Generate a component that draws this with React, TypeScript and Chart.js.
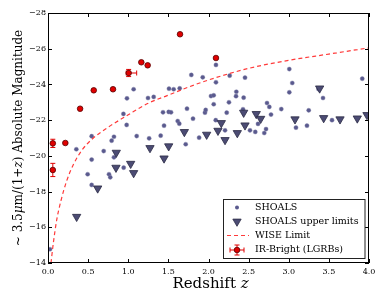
import React, { useEffect, useRef } from "react";
import { Chart, registerables } from "chart.js";
Chart.register(...registerables);

// SHOALS detections: [redshift, magnitude]
const shoals: [number, number][] = [
  [0.025, -14.77], [0.353, -20.37], [0.494, -18.97], [0.544, -21.1], [0.544, -19.79], [0.544, -18.37],
  [0.694, -20.27], [0.76, -18.97], [0.776, -18.8], [0.793, -20.85], [0.822, -21.07], [0.822, -19.92],
  [0.94, -22.35], [0.943, -19.34], [0.98, -21.73], [0.984, -23.22], [1.067, -23.73], [1.105, -21.11],
  [1.246, -23.24], [1.26, -20.98], [1.317, -23.3], [1.404, -21.13], [1.433, -22.44], [1.446, -21.69],
  [1.504, -22.46], [1.508, -23.76], [1.533, -22.44], [1.566, -23.73], [1.616, -21.95], [1.636, -21.8],
  [1.641, -23.78], [1.716, -20.65], [1.732, -22.64], [1.786, -24.53], [1.807, -22.08], [1.883, -21.02],
  [1.928, -24.4], [1.956, -22.42], [1.965, -22.57], [2.031, -23.35], [2.065, -23.39], [2.065, -22.89],
  [2.093, -25.09], [2.093, -24.12], [2.09, -22.0], [2.206, -21.43], [2.227, -22.42], [2.255, -23.0],
  [2.264, -24.49], [2.343, -23.34], [2.347, -23.59], [2.43, -22.61], [2.438, -23.26], [2.455, -24.38],
  [2.517, -21.43], [2.583, -21.34], [2.617, -21.79], [2.695, -21.28], [2.717, -21.5], [2.729, -22.96],
  [2.758, -22.74], [2.779, -22.31], [2.907, -22.62], [3.007, -24.86], [3.044, -24.08], [3.007, -23.56],
  [3.09, -21.58], [3.227, -21.69], [3.249, -22.55], [3.37, -23.74], [3.427, -23.24], [3.539, -22.0],
  [3.916, -24.32],
];

// SHOALS upper limits: [redshift, magnitude]
const upperLimits: [number, number][] = [
  [0.357, -16.59], [0.619, -18.18], [0.847, -19.34], [0.851, -20.18], [1.03, -19.56], [1.067, -19.04],
  [1.271, -20.44], [1.446, -19.86], [1.504, -20.54], [1.699, -21.34], [1.977, -21.19], [2.118, -21.41],
  [2.16, -21.84], [2.206, -20.89], [2.359, -21.28], [2.438, -22.42], [2.455, -21.71], [2.595, -22.35],
  [2.65, -22.08], [3.078, -22.05], [3.385, -23.78], [3.435, -22.12], [3.639, -22.05], [3.854, -22.1],
  [3.975, -22.29],
];

// WISE limit curve: [redshift, magnitude]
const wiseLimit: [number, number][] = [
  [0.037, -14.0], [0.066, -15.1], [0.108, -16.4], [0.162, -17.5], [0.233, -18.6], [0.315, -19.5],
  [0.42, -20.3], [0.565, -21.0], [0.75, -21.6], [1.0, -22.3], [1.25, -22.95], [1.5, -23.4],
  [1.75, -23.85], [2.0, -24.25], [2.5, -24.9], [3.0, -25.35], [3.5, -25.7], [4.0, -26.05],
];

// IR-bright LGRBs
const irZ = [0.06, 0.06, 0.216, 0.4, 0.57, 0.81, 1.005, 1.163, 1.242, 1.645, 2.093];
const irM = [-19.21, -20.7, -20.72, -22.64, -23.67, -23.73, -24.64, -25.24, -25.07, -26.81, -25.48];
const irErrM = [0.37, 0.23, 0, 0, 0, 0, 0.2, 0, 0, 0, 0];
const irErrZLow = [0, 0, 0, 0, 0, 0, 0.03, 0, 0, 0, 0];
const irErrZHigh = [0, 0, 0, 0, 0, 0, 0.1, 0, 0, 0, 0];

const xTicks = [0, 0.5, 1, 1.5, 2, 2.5, 3, 3.5, 4];
const yTicks = [-28, -26, -24, -22, -20, -18, -16, -14];

const legendLabels = ["SHOALS", "SHOALS upper limits", "WISE Limit", "IR-Bright (LGRBs)"];

const FONT = '"DejaVu Serif", serif';
const DOT_COLOR = "#5a5a8e";
const TRI_COLOR = "#4c4c74";
const RED = "#e00000";
const LINE_RED = "#ff3a3a";

type Seg = { t: string; i?: boolean };

function drawSegs(ctx: CanvasRenderingContext2D, segs: Seg[], cx: number, cy: number, size: number) {
  let total = 0;
  const widths = segs.map((s) => {
    ctx.font = `${s.i ? "italic " : ""}${size}px ${FONT}`;
    const w = ctx.measureText(s.t).width;
    total += w;
    return w;
  });
  let x = cx - total / 2;
  ctx.textAlign = "left";
  segs.forEach((s, k) => {
    ctx.font = `${s.i ? "italic " : ""}${size}px ${FONT}`;
    ctx.fillText(s.t, x, cy);
    x += widths[k];
  });
}

function drawErr(ctx: CanvasRenderingContext2D, x: number, y: number, x0: number, x1: number, y0: number, y1: number) {
  const cap = 2.5;
  ctx.beginPath();
  if (y0 !== y1) {
    ctx.moveTo(x, y0); ctx.lineTo(x, y1);
    ctx.moveTo(x - cap, y0); ctx.lineTo(x + cap, y0);
    ctx.moveTo(x - cap, y1); ctx.lineTo(x + cap, y1);
  }
  if (x0 !== x1) {
    ctx.moveTo(x0, y); ctx.lineTo(x1, y);
    ctx.moveTo(x0, y - cap); ctx.lineTo(x0, y + cap);
    ctx.moveTo(x1, y - cap); ctx.lineTo(x1, y + cap);
  }
  ctx.stroke();
}

const customPlugin = {
  id: "custom",
  beforeDatasetsDraw(chart: any) {
    const { ctx, scales } = chart;
    const xs = scales.x, ys = scales.y;
    ctx.save();
    ctx.strokeStyle = RED;
    ctx.lineWidth = 1;
    irZ.forEach((z, k) => {
      const px = xs.getPixelForValue(z);
      const py = ys.getPixelForValue(irM[k]);
      drawErr(
        ctx, px, py,
        xs.getPixelForValue(z - irErrZLow[k]), xs.getPixelForValue(z + irErrZHigh[k]),
        ys.getPixelForValue(irM[k] - irErrM[k]), ys.getPixelForValue(irM[k] + irErrM[k])
      );
    });
    ctx.restore();
  },
  afterDraw(chart: any) {
    const { ctx, chartArea: a, scales } = chart;
    const xs = scales.x, ys = scales.y;
    ctx.save();
    // frame
    ctx.strokeStyle = "#000";
    ctx.lineWidth = 1;
    ctx.strokeRect(a.left + 0.5, a.top + 0.5, a.right - a.left - 1, a.bottom - a.top - 1);
    // inward ticks
    ctx.beginPath();
    const tl = 4;
    xTicks.forEach((v) => {
      const p = Math.round(xs.getPixelForValue(v)) + 0.5;
      ctx.moveTo(p, a.bottom); ctx.lineTo(p, a.bottom - tl);
      ctx.moveTo(p, a.top); ctx.lineTo(p, a.top + tl);
    });
    yTicks.forEach((v) => {
      const p = Math.round(ys.getPixelForValue(v)) + 0.5;
      ctx.moveTo(a.left, p); ctx.lineTo(a.left + tl, p);
      ctx.moveTo(a.right, p); ctx.lineTo(a.right - tl, p);
    });
    ctx.stroke();

    // axis titles
    ctx.fillStyle = "#000";
    ctx.textBaseline = "alphabetic";
    drawSegs(ctx, [{ t: "Redshift " }, { t: "z", i: true }], (a.left + a.right) / 2 + 2, 288, 15);
    ctx.save();
    ctx.translate(22, (a.top + a.bottom) / 2);
    ctx.rotate(-Math.PI / 2);
    drawSegs(ctx, [
      { t: "~ 3.5" }, { t: "μ", i: true }, { t: "m/(1+" }, { t: "z", i: true }, { t: ") Absolute Magnitude" },
    ], 0, 0, 12);
    ctx.restore();

    // legend
    const lx = 223.5, ly = 199.5, lw = 141.5, lh = 59;
    ctx.fillStyle = "#fff";
    ctx.fillRect(lx, ly, lw, lh);
    ctx.strokeStyle = "#222";
    ctx.lineWidth = 1;
    ctx.strokeRect(lx, ly, lw, lh);
    const mx = 237, tx = 255;
    const rows = [207.5, 221.5, 235.5, 250];
    ctx.font = `9.5px ${FONT}`;
    ctx.fillStyle = "#000";
    ctx.textAlign = "left";
    ctx.textBaseline = "middle";
    legendLabels.forEach((t, k) => ctx.fillText(t, tx, rows[k]));
    // markers
    ctx.fillStyle = DOT_COLOR;
    ctx.beginPath(); ctx.arc(mx, rows[0], 2, 0, Math.PI * 2); ctx.fill();
    const r = 4.8;
    ctx.fillStyle = TRI_COLOR;
    ctx.strokeStyle = "#2a2a44";
    ctx.lineWidth = 0.8;
    ctx.beginPath();
    ctx.moveTo(mx, rows[1] + r);
    ctx.lineTo(mx - r * 0.866, rows[1] - r / 2);
    ctx.lineTo(mx + r * 0.866, rows[1] - r / 2);
    ctx.closePath(); ctx.fill(); ctx.stroke();
    ctx.strokeStyle = LINE_RED;
    ctx.lineWidth = 1.2;
    ctx.setLineDash([4, 3]);
    ctx.beginPath(); ctx.moveTo(227, rows[2]); ctx.lineTo(249, rows[2]); ctx.stroke();
    ctx.setLineDash([]);
    ctx.strokeStyle = RED;
    ctx.lineWidth = 1;
    drawErr(ctx, mx, rows[3], mx - 7, mx + 7, rows[3] - 5, rows[3] + 5);
    ctx.fillStyle = RED;
    ctx.strokeStyle = "#550000";
    ctx.lineWidth = 0.8;
    ctx.beginPath(); ctx.arc(mx, rows[3], 2.8, 0, Math.PI * 2); ctx.fill(); ctx.stroke();
    ctx.restore();
  },
};

export default function App() {
  const ref = useRef<HTMLCanvasElement>(null);
  useEffect(() => {
    document.body.style.margin = "0";
    const canvas = ref.current!;
    const chart = new Chart(canvas, {
      type: "scatter",
      data: {
        datasets: [
          {
            label: legendLabels[0],
            data: shoals.map(([x, y]) => ({ x, y })),
            pointStyle: "circle",
            pointRadius: 2.1,
            backgroundColor: DOT_COLOR,
            borderColor: "#8080aa",
            borderWidth: 0.4,
            order: 4,
          },
          {
            label: legendLabels[1],
            data: upperLimits.map(([x, y]) => ({ x, y })),
            pointStyle: "triangle",
            rotation: 180,
            pointRadius: 4.8,
            backgroundColor: TRI_COLOR,
            borderColor: "#2a2a44",
            borderWidth: 0.8,
            order: 3,
          },
          {
            type: "line",
            label: legendLabels[2],
            data: wiseLimit.map(([x, y]) => ({ x, y })),
            borderColor: LINE_RED,
            borderWidth: 1.2,
            borderDash: [4, 3],
            pointRadius: 0,
            cubicInterpolationMode: "monotone",
            fill: false,
            order: 2,
          } as any,
          {
            label: legendLabels[3],
            data: irZ.map((x, k) => ({ x, y: irM[k] })),
            pointStyle: "circle",
            pointRadius: 2.8,
            backgroundColor: RED,
            borderColor: "#550000",
            borderWidth: 0.8,
            order: 1,
          },
        ],
      },
      options: {
        animation: false,
        responsive: false,
        devicePixelRatio: 1,
        layout: { padding: { left: 0, top: 13, right: 21, bottom: 0 } },
        plugins: { legend: { display: false }, tooltip: { enabled: false } },
        scales: {
          x: {
            type: "linear",
            min: 0,
            max: 4,
            grid: { display: false, drawTicks: false },
            border: { display: false },
            afterBuildTicks: (s: any) => { s.ticks = xTicks.map((v) => ({ value: v })); },
            afterFit: (s: any) => { s.height = 30; },
            ticks: {
              padding: 4,
              maxRotation: 0,
              color: "#000",
              font: { family: FONT, size: 8 },
              callback: (v: any) => Number(v).toFixed(1),
            },
          },
          y: {
            type: "linear",
            reverse: true,
            min: -28,
            max: -14,
            grid: { display: false, drawTicks: false },
            border: { display: false },
            afterBuildTicks: (s: any) => { s.ticks = yTicks.map((v) => ({ value: v })); },
            afterFit: (s: any) => { s.width = 48; },
            ticks: {
              padding: 2,
              color: "#000",
              font: { family: FONT, size: 8 },
              callback: (v: any) => String(v).replace("-", "\u2212"),
            },
          },
        },
      },
      plugins: [customPlugin],
    });
    return () => chart.destroy();
  }, []);
  return (
    <div style={{ position: "fixed", left: 0, top: 0, width: 390, height: 293, background: "#fff" }}>
      <canvas ref={ref} width={390} height={293} style={{ width: 390, height: 293, display: "block" }} />
    </div>
  );
}
